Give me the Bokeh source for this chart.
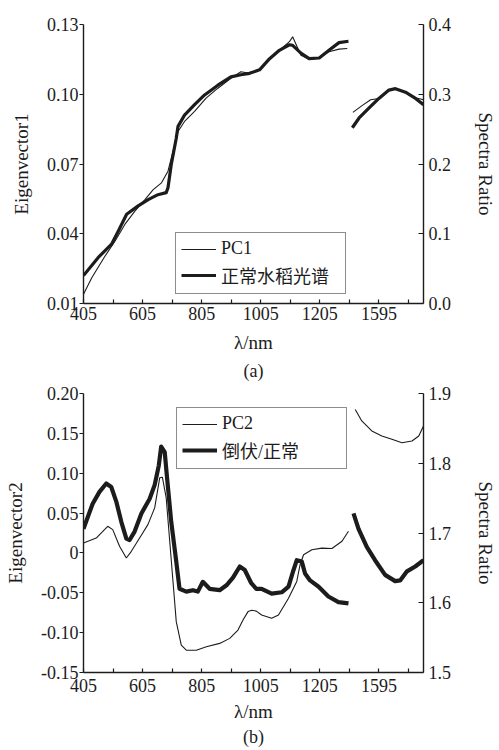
from bokeh.plotting import figure
from bokeh.models import Range1d, LinearAxis, FixedTicker, Legend, LegendItem, Title
from bokeh.layouts import column
from bokeh.embed import file_html
from bokeh.resources import INLINE

# ---------------- data ----------------
# broken wavelength axis: the second band (>1350 nm) is shifted left by GAP
GAP = 190
X_TICK_WL = [405, 505, 605, 705, 805, 905, 1005, 1105, 1205, 1305, 1595, 1695]
X_TICK_LABELS = ["405", "", "605", "", "805", "", "1005", "", "1205", "", "1595", ""]
X_END_WL = 1746

# panel (a)
A_PC1_W1 = [405, 433, 478, 512, 545, 579, 613, 641, 669, 691, 708, 725, 747, 781, 820, 860,
            904, 938, 967, 1001, 1035, 1068, 1102, 1113, 1141, 1169, 1203, 1236, 1270, 1298]
A_PC1_V1 = [0.014, 0.0211, 0.0304, 0.0369, 0.044, 0.0497, 0.0547, 0.059, 0.0619, 0.0669, 0.0754,
            0.084, 0.0883, 0.0926, 0.0983, 0.1026, 0.1069, 0.1097, 0.109, 0.1105, 0.1153, 0.1189,
            0.1226, 0.1247, 0.1168, 0.1151, 0.1158, 0.1183, 0.1194, 0.1197]
A_PC1_W2 = [1507, 1539, 1567, 1595, 1629, 1651, 1685, 1719, 1746]
A_PC1_V2 = [0.0922, 0.0952, 0.0976, 0.0982, 0.1018, 0.1024, 0.1009, 0.0985, 0.0976]

A_SPEC_W1 = [405, 455, 500, 523, 551, 590, 624, 657, 685, 691, 702, 719, 725, 747, 781, 815,
             860, 904, 938, 967, 1001, 1035, 1068, 1102, 1113, 1141, 1169, 1203, 1236, 1270, 1302]
A_SPEC_R1 = [0.040, 0.066, 0.085, 0.104, 0.128, 0.140, 0.149, 0.156, 0.159, 0.166, 0.199, 0.237,
             0.254, 0.270, 0.285, 0.299, 0.313, 0.325, 0.328, 0.330, 0.335, 0.351, 0.363, 0.371,
             0.370, 0.359, 0.351, 0.352, 0.363, 0.374, 0.376]
A_SPEC_W2 = [1505, 1528, 1561, 1595, 1629, 1651, 1685, 1719, 1746]
A_SPEC_R2 = [0.252, 0.266, 0.280, 0.294, 0.306, 0.308, 0.303, 0.294, 0.285]

A_YL_TICKS = [0.01, 0.04, 0.07, 0.10, 0.13]
A_YL_LABELS = ["0.01", "0.04", "0.07", "0.10", "0.13"]
A_YR_TICKS = [0.0, 0.1, 0.2, 0.3, 0.4]
A_YR_LABELS = ["0.0", "0.1", "0.2", "0.3", "0.4"]

# panel (b)
B_PC2_W1 = [405, 448, 487, 504, 527, 550, 567, 595, 623, 646, 663, 672, 685, 696, 708, 719, 736,
            753, 787, 821, 866, 900, 928, 945, 962, 975, 990, 1008, 1042, 1065, 1099, 1127, 1138,
            1150, 1178, 1212, 1246, 1280, 1302]
B_PC2_V1 = [0.0124, 0.0187, 0.0334, 0.0292, 0.0083, -0.0064, 0.002, 0.0187, 0.0355, 0.0565,
            0.0942, 0.095, 0.069, 0.0187, -0.0358, -0.0862, -0.1156, -0.122, -0.122, -0.1177,
            -0.1135, -0.1072, -0.0967, -0.0842, -0.0736, -0.072, -0.073, -0.0778, -0.082, -0.0778,
            -0.0568, -0.0358, -0.0149, -0.0023, 0.004, 0.006, 0.0055, 0.0146, 0.0272]
B_PC2_W2 = [1515, 1537, 1571, 1605, 1639, 1673, 1707, 1730, 1746]
B_PC2_V2 = [0.180, 0.1656, 0.153, 0.1467, 0.1425, 0.1383, 0.1404, 0.1467, 0.1593]

B_RATIO_W1 = [405, 436, 459, 482, 499, 516, 533, 550, 561, 578, 601, 629, 646, 660, 668, 680, 687,
              702, 719, 730, 753, 775, 792, 809, 832, 866, 889, 911, 934, 951, 973, 990, 1008,
              1042, 1076, 1099, 1116, 1127, 1144, 1155, 1172, 1201, 1234, 1268, 1302]
B_RATIO_R1 = [1.706, 1.742, 1.759, 1.771, 1.766, 1.745, 1.716, 1.692, 1.690, 1.702, 1.728, 1.749,
              1.769, 1.797, 1.824, 1.816, 1.783, 1.716, 1.659, 1.620, 1.616, 1.618, 1.616, 1.630,
              1.620, 1.618, 1.625, 1.636, 1.652, 1.647, 1.628, 1.620, 1.620, 1.613, 1.615, 1.623,
              1.647, 1.661, 1.659, 1.642, 1.632, 1.623, 1.609, 1.601, 1.599]
B_RATIO_W2 = [1509, 1526, 1554, 1582, 1616, 1650, 1667, 1690, 1718, 1746]
B_RATIO_R2 = [1.728, 1.706, 1.680, 1.661, 1.640, 1.631, 1.632, 1.645, 1.652, 1.661]

B_YL_TICKS = [-0.15, -0.10, -0.05, 0.0, 0.05, 0.10, 0.15, 0.20]
B_YL_LABELS = ["-0.15", "-0.10", "-0.05", "0", "0.05", "0.10", "0.15", "0.20"]
B_YR_TICKS = [1.5, 1.6, 1.7, 1.8, 1.9]
B_YR_LABELS = ["1.5", "1.6", "1.7", "1.8", "1.9"]

# ---------------- styling ----------------
SERIF = "Liberation Serif"
LEGEND_FONT = "Liberation Serif, Noto Sans CJK SC"
INK = "#1c1c1c"
TICK_FS = "18px"
TITLE_FS = "19px"


def pos(w):
    return w if w <= 1350 else w - GAP


def style_axis(ax, ticks, labels, side, label_standoff, title_standoff):
    ax.ticker = FixedTicker(ticks=ticks)
    ax.major_label_overrides = {t: l for t, l in zip(ticks, labels)}
    ax.minor_tick_line_color = None
    ax.axis_line_color = INK
    ax.axis_line_width = 1.4
    ax.major_tick_line_color = INK
    ax.major_tick_line_width = 1.2
    ax.major_label_text_font = SERIF
    ax.major_label_text_font_size = TICK_FS
    ax.major_label_text_color = INK
    ax.axis_label_text_font = SERIF
    ax.axis_label_text_font_size = TITLE_FS
    ax.axis_label_text_font_style = "normal"
    ax.axis_label_text_color = INK
    ax.major_label_standoff = label_standoff
    ax.axis_label_standoff = title_standoff
    if side == "left":
        ax.major_tick_in = 0
        ax.major_tick_out = 4
    elif side == "right":
        ax.major_tick_in = 5
        ax.major_tick_out = 0
        if "axis_label_orientation" in ax.properties():
            ax.axis_label_orientation = "vertical"
    else:
        ax.major_tick_in = 4
        ax.major_tick_out = 0


def make_panel(height, borders, yl, yr, yl_ticks, yl_labels, yr_ticks, yr_labels,
               ylab, thin_w1, thin_v1, thin_w2, thin_v2, thick_w1, thick_r1, thick_w2, thick_r2,
               thick_width, labels, legend_loc, caption, x_standoffs, cap_standoff):
    bl, br, bt, bb = borders
    p = figure(width=499, height=height, output_backend="svg", toolbar_location=None,
               x_range=Range1d(405, pos(X_END_WL)), y_range=Range1d(*yl),
               min_border_left=bl, min_border_right=br, min_border_top=bt, min_border_bottom=bb,
               x_axis_label="λ/nm", y_axis_label=ylab)
    p.grid.visible = False
    p.outline_line_color = None
    p.background_fill_color = "white"
    p.extra_y_ranges = {"ratio": Range1d(*yr)}
    rax = LinearAxis(y_range_name="ratio", axis_label="Spectra Ratio")
    p.add_layout(rax, "right")

    style_axis(p.xaxis[0], [pos(w) for w in X_TICK_WL], X_TICK_LABELS, "below", *x_standoffs)
    style_axis(p.yaxis[0], yl_ticks, yl_labels, "left", 1, 12)
    style_axis(rax, yr_ticks, yr_labels, "right", 5, 21)

    t1 = p.line([pos(w) for w in thin_w1], thin_v1, line_color=INK, line_width=1.1)
    p.line([pos(w) for w in thin_w2], thin_v2, line_color=INK, line_width=1.1)
    k1 = p.line([pos(w) for w in thick_w1], thick_r1, line_color=INK, line_width=thick_width,
                y_range_name="ratio", line_join="round")
    p.line([pos(w) for w in thick_w2], thick_r2, line_color=INK, line_width=thick_width,
           y_range_name="ratio", line_join="round")

    leg = Legend(items=[LegendItem(label=labels[0], renderers=[t1]),
                        LegendItem(label=labels[1], renderers=[k1])],
                 location=legend_loc, orientation="vertical")
    leg.label_text_font = LEGEND_FONT
    leg.label_text_font_size = "18px"
    leg.label_text_color = INK
    leg.glyph_width = 35
    leg.glyph_height = 20
    leg.label_height = 20
    leg.label_width = 119
    leg.label_standoff = 5
    leg.spacing = 3
    leg.padding = 5
    leg.margin = 0
    leg.border_line_color = INK
    leg.border_line_width = 1.2
    leg.background_fill_color = "white"
    leg.background_fill_alpha = 1.0
    p.add_layout(leg, "center")

    cap = Title(text=caption, align="center", text_font=SERIF, text_font_size=TICK_FS,
                text_font_style="normal", text_color=INK, standoff=cap_standoff)
    p.add_layout(cap, "below")
    return p


pa = make_panel(384, (83, 74, 24, 80), (0.01, 0.13), (0.0, 0.4),
                A_YL_TICKS, A_YL_LABELS, A_YR_TICKS, A_YR_LABELS, "Eigenvector1",
                A_PC1_W1, A_PC1_V1, A_PC1_W2, A_PC1_V2,
                A_SPEC_W1, A_SPEC_R1, A_SPEC_W2, A_SPEC_R2,
                3.2, ["PC1", "正常水稻光谱"], (92, 9), "(a)", (3, 9), 7)

pb = make_panel(366, (82, 76, 9, 78), (-0.15, 0.20), (1.5, 1.9),
                B_YL_TICKS, B_YL_LABELS, B_YR_TICKS, B_YR_LABELS, "Eigenvector2",
                B_PC2_W1, B_PC2_V1, B_PC2_W2, B_PC2_V2,
                B_RATIO_W1, B_RATIO_R1, B_RATIO_W2, B_RATIO_R2,
                4.2, ["PC2", "倒伏/正常"], (93, 203), "(b)", (6, 6), 1)

layout = column(pa, pb, spacing=0)
open("out.html", "w").write(file_html(layout, INLINE))
